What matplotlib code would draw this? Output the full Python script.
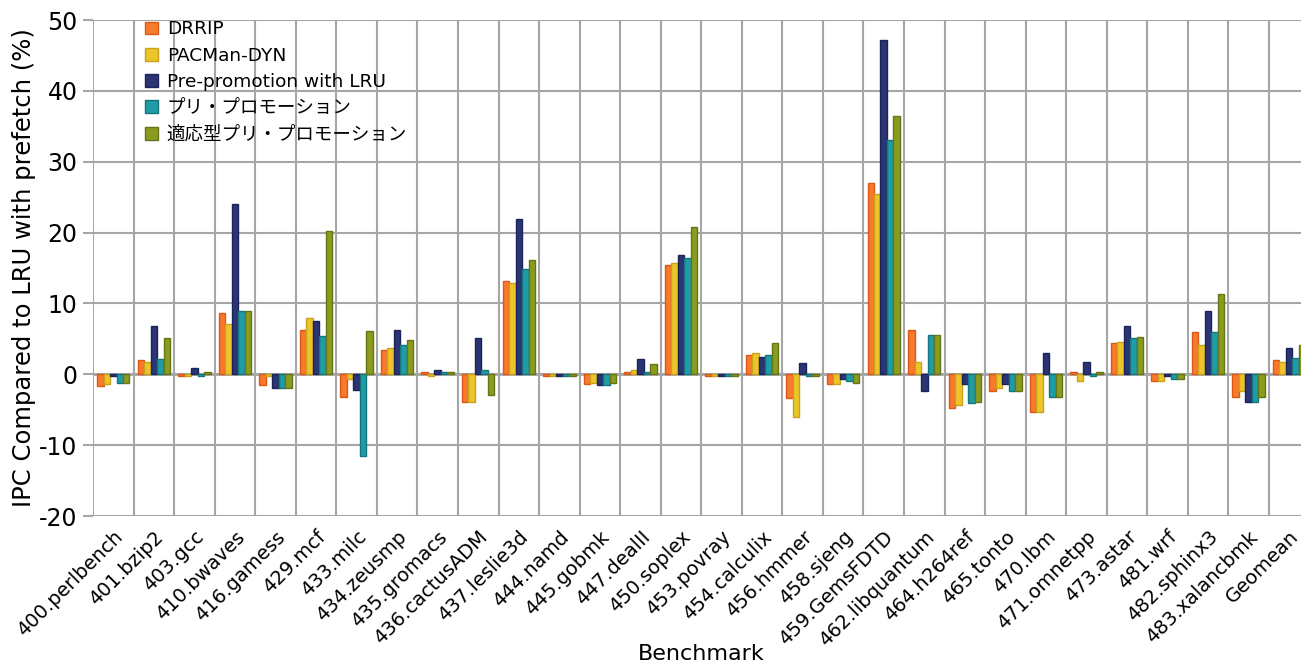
import numpy as np
import matplotlib
matplotlib.use('Agg')
import matplotlib.pyplot as plt

plt.rcParams['font.family'] = ['DejaVu Sans', 'Noto Sans CJK JP']
plt.rcParams['axes.unicode_minus'] = False

# benchmark names
benchmarks = ['400.perlbench', '401.bzip2', '403.gcc', '410.bwaves', '416.gamess',
              '429.mcf', '433.milc', '434.zeusmp', '435.gromacs', '436.cactusADM',
              '437.leslie3d', '444.namd', '445.gobmk', '447.dealII', '450.soplex',
              '453.povray', '454.calculix', '456.hmmer', '458.sjeng', '459.GemsFDTD',
              '462.libquantum', '464.h264ref', '465.tonto', '470.lbm', '471.omnetpp',
              '473.astar', '481.wrf', '482.sphinx3', '483.xalancbmk', 'Geomean']

# IPC improvement vs LRU with prefetch (%)
drrip = [-1.7, 2.0, -0.3, 8.7, -1.5, 6.3, -3.2, 3.4, 0.3, -3.9,
         13.2, -0.3, -1.4, 0.3, 15.4, -0.3, 2.7, -3.3, -1.4, 27.0,
         6.25, -4.8, -2.35, -5.3, 0.3, 4.4, -0.95, 5.9, -3.15, 2.0]
pacman = [-1.4, 1.7, -0.3, 7.1, -0.25, 8.0, -0.7, 3.7, -0.3, -3.9,
          12.9, -0.3, -1.2, 0.55, 15.7, -0.3, 2.95, -6.0, -1.4, 25.4,
          1.8, -4.3, -1.9, -5.3, -0.95, 4.6, -0.95, 4.1, -2.35, 1.8]
prepromo_lru = [-0.3, 6.8, 0.85, 24.0, -1.9, 7.5, -2.2, 6.3, 0.6, 5.1,
                21.9, -0.3, -1.5, 2.2, 16.8, -0.3, 2.5, 1.55, -0.7, 47.2,
                -2.4, -1.4, -1.4, 2.95, 1.8, 6.8, -0.3, 8.9, -3.9, 3.7]
prepromo = [-1.2, 2.2, -0.3, 8.9, -1.9, 5.4, -11.5, 4.1, 0.3, 0.6,
            14.9, -0.3, -1.5, 0.3, 16.4, -0.3, 2.7, -0.3, -0.95, 33.1,
            5.55, -4.1, -2.35, -3.15, -0.3, 5.1, -0.7, 6.0, -3.9, 2.25]
adaptive = [-1.2, 5.1, 0.3, 8.9, -1.9, 20.2, 6.1, 4.8, 0.3, -2.9,
            16.1, -0.3, -1.2, 1.45, 20.8, -0.3, 4.4, -0.3, -1.2, 36.5,
            5.55, -3.9, -2.35, -3.15, 0.3, 5.3, -0.7, 11.3, -3.15, 4.1]

series = [drrip, pacman, prepromo_lru, prepromo, adaptive]
labels = ['DRRIP', 'PACMan-DYN', 'Pre-promotion with LRU',
          'プリ・プロモーション', '適応型プリ・プロモーション']
fills = ['#F97A2D', '#EDC52A', '#2B3574', '#1F9CA5', '#8B9B1D']
edges = ['#D95A18', '#C9A31A', '#1B2458', '#15757C', '#66741A']

fig = plt.figure(figsize=(13.01, 6.68), dpi=100)
ax = fig.add_axes([93 / 1301, 152 / 668, 1216.5 / 1301, 496 / 668])

x = np.arange(len(benchmarks)) + 0.5
w = 0.16
for j, vals in enumerate(series):
    ax.bar(x + (j - 2) * w, vals, w, color=fills[j], edgecolor=edges[j],
           linewidth=1.0, label=labels[j], zorder=3)

grid_c = '#A6A6A6'
ax.set_xlim(0, len(benchmarks))
ax.set_ylim(-20, 50)
ax.set_yticks(np.arange(-20, 51, 10))
ax.set_xticks(x)
ax.set_xticks(np.arange(len(benchmarks) + 1), minor=True)
ax.set_xticklabels(benchmarks, rotation=45, ha='right', va='top',
                   rotation_mode='anchor', fontsize=14)
ax.grid(axis='y', which='major', color=grid_c, linewidth=1.5, zorder=0)
ax.grid(axis='x', which='minor', color=grid_c, linewidth=1.5, zorder=0)
ax.axhline(0, color=grid_c, linewidth=2, zorder=2)
ax.set_axisbelow(True)
for s in ax.spines.values():
    s.set_visible(False)
ax.tick_params(axis='y', length=7, width=1.5, color=grid_c, labelsize=17, pad=4)
ax.tick_params(axis='x', which='both', length=0, pad=8)

ax.set_ylabel('IPC Compared to LRU with prefetch (%)', fontsize=17.5, labelpad=2)
ax.set_xlabel('Benchmark', fontsize=16, labelpad=-4)

ax.legend(loc='upper left', bbox_to_anchor=(0.037, 1.014), frameon=False,
          fontsize=13.3, handlelength=0.7, handleheight=0.7, handletextpad=0.45,
          labelspacing=0.45, borderaxespad=0)

fig.savefig('out.png', dpi=100)
